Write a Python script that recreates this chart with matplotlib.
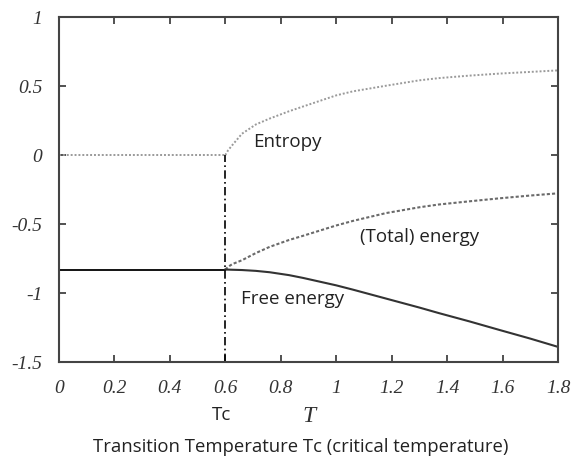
import matplotlib.pyplot as plt

# data
Tc = 0.6
T_low = [0.0, 0.6]
entropy_low = [0.0, 0.0]
free_low = [-0.83, -0.83]

T_high = [0.6, 0.61, 0.625, 0.66, 0.71, 0.76, 0.83, 0.88, 1.0, 1.06, 1.18,
          1.3, 1.37, 1.48, 1.59, 1.7, 1.8]
entropy = [0.0, 0.035, 0.072, 0.155, 0.222, 0.265, 0.318, 0.352, 0.433,
           0.462, 0.503, 0.542, 0.558, 0.576, 0.591, 0.603, 0.614]
energy = [-0.83, -0.81, -0.79, -0.762, -0.71, -0.665, -0.615, -0.585, -0.51,
          -0.477, -0.42, -0.378, -0.358, -0.335, -0.313, -0.293, -0.277]
free_energy = [-0.83, -0.83, -0.831, -0.833, -0.839, -0.849, -0.87, -0.89,
               -0.944, -0.975, -1.04, -1.105, -1.145, -1.205, -1.268, -1.33,
               -1.39]

xticks = [0, 0.2, 0.4, 0.6, 0.8, 1.0, 1.2, 1.4, 1.6, 1.8]
xticklabels = ["0", "0.2", "0.4", "0.6", "0.8", "1", "1.2", "1.4", "1.6", "1.8"]
yticks = [-1.5, -1, -0.5, 0, 0.5, 1]
yticklabels = ["-1.5", "-1", "-0.5", "0", "0.5", "1"]

serif = "Liberation Serif"
sans = "Open Sans"

fig = plt.figure(figsize=(5.76, 4.63), dpi=100)
ax = fig.add_axes([0.1024, 0.218, 0.8664, 0.745])

# low temperature branch
ax.plot(T_low, entropy_low, color="#9a9a9a", lw=1.4, ls=(0, (1, 1)))
ax.plot(T_low, free_low, color="black", lw=1.3, ls="-")

# high temperature branch
ax.plot(T_high, entropy, color="#9a9a9a", lw=1.4, ls=(0, (1, 1)))
ax.plot(T_high, energy, color="#6a6a6a", lw=1.5, ls=(0, (1.5, 1)))
ax.plot(T_high, free_energy, color="#333333", lw=1.5, ls="-")

# transition line
ax.plot([Tc, Tc], [-1.5, 0], color="black", lw=1.2, ls=(0, (5, 2, 1, 2)))

ax.set_xlim(0, 1.8)
ax.set_ylim(-1.5, 1)
ax.set_xticks(xticks)
ax.set_xticklabels(xticklabels, fontfamily=serif, fontstyle="italic", fontsize=14)
ax.set_yticks(yticks)
ax.set_yticklabels(yticklabels, fontfamily=serif, fontstyle="italic", fontsize=14)
ax.tick_params(direction="in", length=5, width=1.2, top=True, right=True,
               colors="#333333")
ax.tick_params(axis="x", pad=13)
ax.tick_params(axis="y", pad=12)
for s in ax.spines.values():
    s.set_linewidth(1.5)
    s.set_color("#444444")

ax.text(0.70, 0.095, "Entropy", fontfamily=sans, fontsize=13.5,
        color="#222222", va="center")
ax.text(1.086, -0.59, "(Total) energy", fontfamily=sans, fontsize=13.5,
        color="#222222", va="center")
ax.text(0.656, -1.045, "Free energy", fontfamily=sans, fontsize=13.5,
        color="#222222", va="center")

fig.text(222 / 576, 1 - 415 / 463, "Tc", fontfamily=sans, fontsize=13.5,
         ha="center", va="center", color="#222222")
fig.text(309 / 576, 1 - 417 / 463, "T", fontfamily=serif, fontstyle="italic",
         fontsize=17, ha="center", va="center", color="#333333")
fig.text(301 / 576, 1 - 447 / 463, "Transition Temperature Tc (critical temperature)",
         fontfamily=sans, fontsize=13.3, ha="center", va="center", color="#222222")

fig.savefig("out.png", dpi=100)
